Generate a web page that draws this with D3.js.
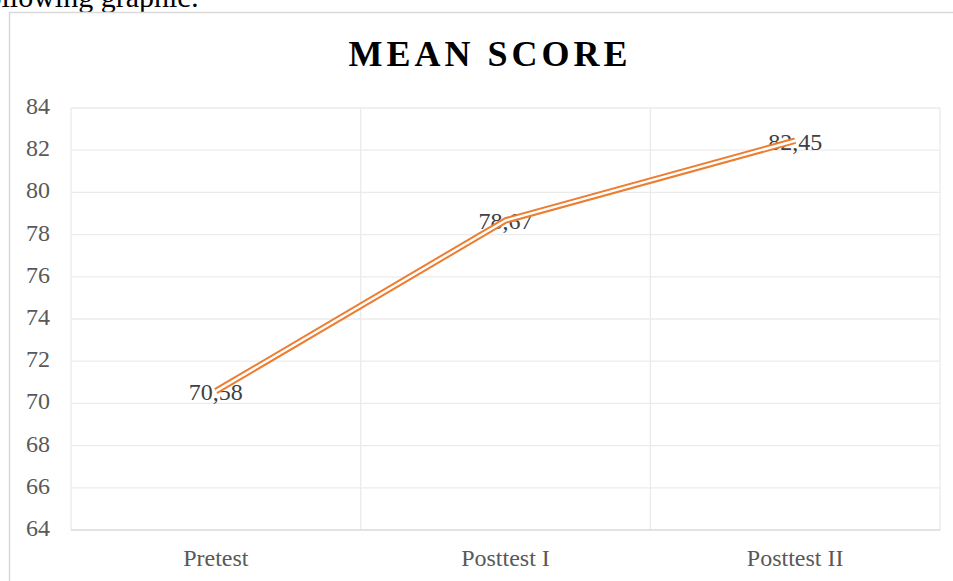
<!DOCTYPE html>
<html>
<head>
<meta charset="utf-8">
<script src="https://cdn.jsdelivr.net/npm/d3@7"></script>
<style>
  body { margin: 0; background: #fff; overflow: hidden; }
  svg { display: block; }
</style>
</head>
<body>
<script>
// data
const categories = ['Pretest', 'Posttest I', 'Posttest II'];
const meanScores = [70.58, 78.67, 82.45];
const scoreLabels = ['70,58', '78,67', '82,45'];
const yTicks = [64, 66, 68, 70, 72, 74, 76, 78, 80, 82, 84];

const width = 953, height = 581;
const plot = { left: 71, right: 940, top: 108, bottom: 530 };
const serif = '"Liberation Serif", "Times New Roman", serif';

const svg = d3.select('body')
	.append('svg')
	.attr('width', width)
	.attr('height', height);

// bit of the document text that sits above the chart
svg.append('text')
	.attr('x', 199)
	.attr('y', 7)
	.attr('text-anchor', 'end')
	.style('font-family', serif)
	.style('font-size', '30px')
	.attr('fill', '#000')
	.text('following graphic:');

// chart frame
svg.append('rect')
	.attr('x', 9.5)
	.attr('y', 12.5)
	.attr('width', 980)
	.attr('height', 620)
	.attr('fill', '#fff')
	.attr('stroke', '#d9d9d9')
	.attr('stroke-width', 1.5);

const x = d3.scaleBand()
	.domain(categories)
	.range([plot.left, plot.right]);

const y = d3.scaleLinear()
	.domain([64, 84])
	.range([plot.bottom, plot.top]);

// horizontal gridlines
svg.append('g')
	.selectAll('line')
	.data(yTicks.slice(1))
	.enter()
	.append('line')
	.attr('x1', plot.left)
	.attr('x2', plot.right)
	.attr('y1', d => y(d))
	.attr('y2', d => y(d))
	.attr('stroke', '#ebebeb')
	.attr('stroke-width', 1.3);

// vertical gridlines between categories
const bounds = categories.map(c => x(c)).concat([plot.right]);
svg.append('g')
	.selectAll('line')
	.data(bounds)
	.enter()
	.append('line')
	.attr('x1', d => d)
	.attr('x2', d => d)
	.attr('y1', plot.top)
	.attr('y2', plot.bottom)
	.attr('stroke', '#ebebeb')
	.attr('stroke-width', 1.3);

// category axis line
svg.append('line')
	.attr('x1', plot.left)
	.attr('x2', plot.right)
	.attr('y1', y(64))
	.attr('y2', y(64))
	.attr('stroke', '#d9d9d9')
	.attr('stroke-width', 1.3);

// y tick labels
svg.append('g')
	.selectAll('text')
	.data(yTicks)
	.enter()
	.append('text')
	.attr('x', 50)
	.attr('y', d => y(d) + 6)
	.attr('text-anchor', 'end')
	.style('font-family', serif)
	.style('font-size', '24px')
	.attr('fill', '#595959')
	.text(d => d);

// category labels
svg.append('g')
	.selectAll('text')
	.data(categories)
	.enter()
	.append('text')
	.attr('x', d => x(d) + x.bandwidth() / 2)
	.attr('y', 566)
	.attr('text-anchor', 'middle')
	.style('font-family', serif)
	.style('font-size', '24px')
	.attr('fill', '#595959')
	.text(d => d);

// title
svg.append('text')
	.attr('x', 490)
	.attr('y', 66)
	.attr('text-anchor', 'middle')
	.style('font-family', serif)
	.style('font-size', '36px')
	.style('font-weight', 'bold')
	.style('letter-spacing', '4px')
	.attr('fill', '#000')
	.text('MEAN SCORE');

const pts = categories.map((c, i) => ({
	cx: x(c) + x.bandwidth() / 2,
	cy: y(meanScores[i]),
	label: scoreLabels[i]
}));

// data labels, centered on the points
svg.append('g')
	.selectAll('text')
	.data(pts)
	.enter()
	.append('text')
	.attr('x', d => d.cx)
	.attr('y', d => d.cy + 9)
	.attr('text-anchor', 'middle')
	.style('font-family', serif)
	.style('font-size', '24px')
	.attr('fill', '#404040')
	.text(d => d.label);

// double line: orange stroke with a white core
const line = d3.line()
	.x(d => d.cx)
	.y(d => d.cy);

svg.append('path')
	.datum(pts)
	.attr('d', line)
	.attr('fill', 'none')
	.attr('stroke', '#ed7d31')
	.attr('stroke-width', 6.5)
	.attr('stroke-linejoin', 'round');

svg.append('path')
	.datum(pts)
	.attr('d', line)
	.attr('fill', 'none')
	.attr('stroke', '#fff')
	.attr('stroke-width', 2.5)
	.attr('stroke-linejoin', 'round');
</script>
</body>
</html>
